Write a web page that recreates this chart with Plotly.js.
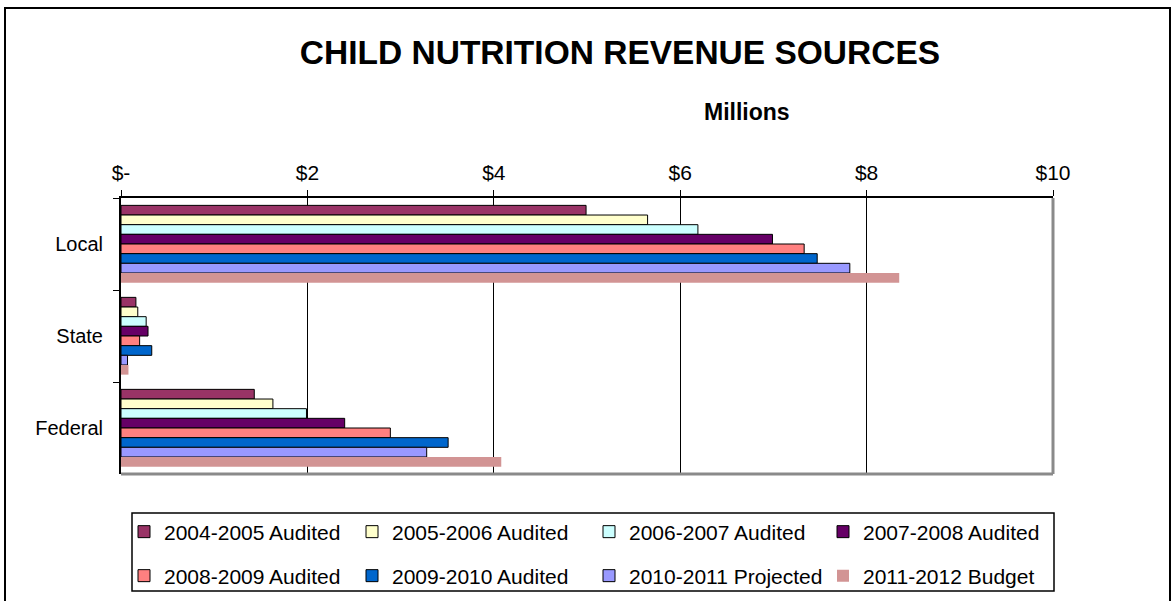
<!DOCTYPE html>
<html>
<head>
<meta charset="utf-8">
<script src="https://cdn.plot.ly/plotly-3.0.1.min.js"></script>
<style>
html,body{margin:0;padding:0;background:#fff;}
#chart{width:1172px;height:601px;}
</style>
</head>
<body>
<div id="chart"></div>
<script>
const categories = ["Local", "State", "Federal"];
const seriesNames = ["2004-2005 Audited", "2005-2006 Audited", "2006-2007 Audited", "2007-2008 Audited",
                     "2008-2009 Audited", "2009-2010 Audited", "2010-2011 Projected", "2011-2012 Budget"];
const fy0405 = [4.99, 0.16, 1.43];
const fy0506 = [5.65, 0.18, 1.63];
const fy0607 = [6.19, 0.27, 1.99];
const fy0708 = [6.99, 0.29, 2.40];
const fy0809 = [7.33, 0.20, 2.89];
const fy0910 = [7.47, 0.33, 3.51];
const fy1011 = [7.82, 0.07, 3.28];
const fy1112 = [8.35, 0.08, 4.08];
const seriesValues = [fy0405, fy0506, fy0607, fy0708, fy0809, fy0910, fy1011, fy1112];
const tickVals = [0, 2, 4, 6, 8, 10];
const tickText = ["$-", "$2", "$4", "$6", "$8", "$10"];

const colors = ["#993366", "#FFFFCC", "#CCFFFF", "#660066", "#FF8080", "#0066CC", "#9999FF", "#D29494"];
const lineW = [1, 1, 1, 1, 1, 1, 1, 0];

const FONT = "Liberation Sans, Arial, sans-serif";
const W = 1172, H = 601;

// legend entry placement (pixels): 4 columns x 2 rows
const legendColX = [124, 352, 589, 823];
const legendRowY = [532, 576];
const legendKeys = ["legend", "legend2", "legend3", "legend4", "legend5", "legend6", "legend7", "legend8"];

const traces = seriesNames.map((name, i) => ({
  type: "bar",
  orientation: "h",
  name: name,
  y: categories,
  x: seriesValues[i],
  marker: {color: colors[i], line: {color: "#000", width: lineW[i]}},
  legend: legendKeys[i],
  hoverinfo: "x+name"
}));

const layout = {
  width: W, height: H,
  paper_bgcolor: "#fff", plot_bgcolor: "#fff",
  margin: {l: 121, r: 119, t: 198, b: 127},
  font: {family: FONT, color: "#000"},
  title: {
    text: "<b>CHILD NUTRITION REVENUE SOURCES</b>",
    font: {family: FONT, size: 33.5, color: "#000"},
    xref: "container", yref: "container",
    x: 620 / W, xanchor: "center",
    y: 1 - 52 / H, yanchor: "middle"
  },
  barmode: "group",
  bargap: 0.16,
  bargroupgap: 0,
  xaxis: {
    side: "top",
    range: [0, 10],
    tickvals: tickVals, ticktext: tickText,
    tickfont: {family: FONT, size: 21, color: "#000"},
    ticks: "outside", ticklen: 6, tickwidth: 1, tickcolor: "#000",
    ticklabelstandoff: 2,
    showline: true, linecolor: "#000", linewidth: 2,
    showgrid: true, gridcolor: "#000", gridwidth: 1,
    zeroline: false, fixedrange: true
  },
  yaxis: {
    autorange: "reversed",
    type: "category",
    tickfont: {family: FONT, size: 20, color: "#000"},
    ticks: "outside", ticklen: 6, tickwidth: 1, tickcolor: "#000",
    tickson: "boundaries",
    showline: true, linecolor: "#000", linewidth: 2,
    showgrid: false, zeroline: false, fixedrange: true,
    ticklabelstandoff: 12
  },
  showlegend: true,
  annotations: [{
    text: "<b>Millions</b>",
    xref: "paper", yref: "paper",
    x: (747 - 121) / 932, y: (474 - 112) / 276,
    xanchor: "center", yanchor: "middle",
    showarrow: false,
    font: {family: FONT, size: 23, color: "#000"}
  }],
  shapes: [
    {type: "line", xref: "paper", yref: "paper", x0: 1, x1: 1, y0: 0, y1: 1, line: {color: "#8a8a8a", width: 3}},
    {type: "line", xref: "paper", yref: "paper", x0: 0, x1: 1, y0: 0, y1: 0, line: {color: "#8a8a8a", width: 3}},
    {type: "rect", xref: "paper", yref: "paper",
     x0: (132 - 121) / 932, x1: (1054 - 121) / 932,
     y0: (474 - 513) / 276, y1: (474 - 591) / 276,
     line: {color: "#000", width: 1.5}, fillcolor: "rgba(0,0,0,0)"},
    {type: "rect", xref: "paper", yref: "paper",
     x0: (5 - 121) / 932, x1: (1170 - 121) / 932,
     y0: (474 - 8) / 276, y1: (474 - 604) / 276,
     line: {color: "#000", width: 2}, fillcolor: "rgba(0,0,0,0)"}
  ]
};

legendKeys.forEach((key, i) => {
  layout[key] = {
    orientation: "h",
    xref: "container", yref: "container",
    x: legendColX[i % 4] / W, xanchor: "left",
    y: 1 - legendRowY[Math.floor(i / 4)] / H, yanchor: "middle",
    bgcolor: "rgba(0,0,0,0)", borderwidth: 0,
    font: {family: FONT, size: 21, color: "#000"},
    itemclick: false, itemdoubleclick: false
  };
});

Plotly.newPlot("chart", traces, layout, {displayModeBar: false});
</script>
</body>
</html>
